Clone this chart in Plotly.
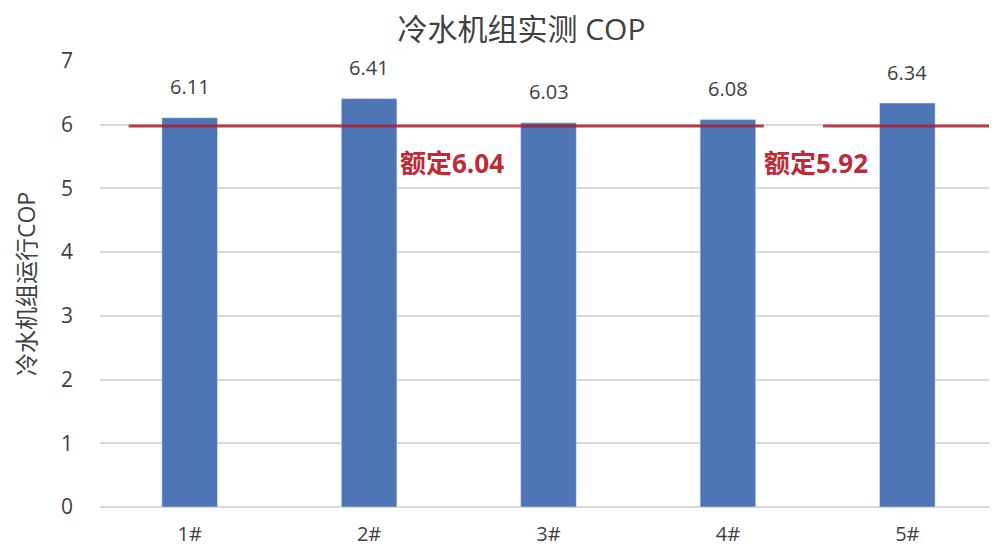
import plotly.graph_objects as go

categories = ["1#", "2#", "3#", "4#", "5#"]
cop_values = [6.11, 6.41, 6.03, 6.08, 6.34]
value_labels = ["6.11", "6.41", "6.03", "6.08", "6.34"]
y_ticks = [0, 1, 2, 3, 4, 5, 6, 7]

# rated reference line segments (category-axis units) and labels
rated_segments_x = [(-0.34, 3.2), (3.53, 4.5)]
rated_line_y = [5.98, 5.98]
rated_labels = ["额定6.04", "额定5.92"]
rated_label_x = [1.16, 3.19]
rated_label_y = [5.4, 5.4]

FONT = "Open Sans, Noto Sans CJK SC, sans-serif"
RED = "rgba(170,30,45,0.85)"

fig = go.Figure()
fig.add_trace(go.Bar(
    x=categories, y=cop_values,
    marker_color="#4e75b5",
    width=0.31,
    hoverinfo="x+y",
))

for c, v, t in zip(categories, cop_values, value_labels):
    fig.add_annotation(x=c, y=v, xref="x", yref="y", text=t, showarrow=False,
                       yanchor="middle", yshift=31,
                       font=dict(size=20, color="#404040", family=FONT))

for (x0, x1), y in zip(rated_segments_x, rated_line_y):
    fig.add_shape(type="line", xref="x", yref="y", x0=x0, x1=x1, y0=y, y1=y,
                  line=dict(color=RED, width=3), layer="above")

for txt, x, y in zip(rated_labels, rated_label_x, rated_label_y):
    fig.add_annotation(x=x, y=y, xref="x", yref="y", text="<b>" + txt + "</b>",
                       showarrow=False, xanchor="left", yanchor="middle",
                       font=dict(size=26, color="#bf2a36", family=FONT))

# page has an 8px body margin; margins below compensate so the plot area
# lands where the reference puts it
fig.update_layout(
    width=997, height=552,
    paper_bgcolor="white", plot_bgcolor="white",
    margin=dict(l=92, r=8, t=53, b=53),
    title=dict(text="冷水机组实测 COP", x=0.515, xanchor="center", y=0.961, yanchor="middle",
               font=dict(size=30, color="#404040", family=FONT)),
    showlegend=False,
    font=dict(family=FONT, color="#404040"),
)
fig.update_xaxes(range=[-0.5, 4.5], showgrid=False, showline=False, ticks="",
                 tickfont=dict(size=20, color="#404040"), ticklabelstandoff=13,
                 automargin=False)
fig.update_yaxes(range=[0, 7], tickvals=y_ticks, showgrid=True, gridcolor="#d9d9d9",
                 gridwidth=1.5, zeroline=True, zerolinecolor="#d9d9d9", zerolinewidth=1.5,
                 tickfont=dict(size=21, color="#404040"), ticklabelstandoff=26,
                 title=dict(text="冷水机组运行COP", font=dict(size=23, color="#404040"), standoff=18))

fig.write_html("out.html")
